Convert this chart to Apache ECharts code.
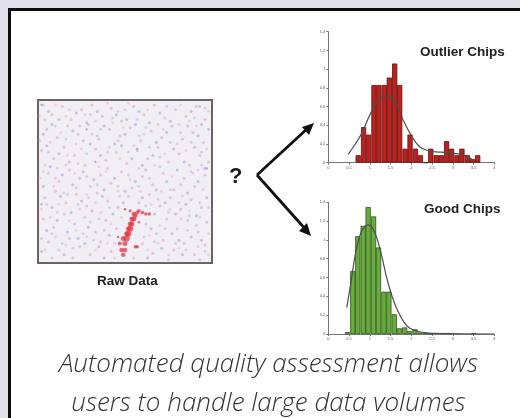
<!DOCTYPE html>
<html><head><meta charset="utf-8">
<style>
html,body{margin:0;padding:0;background:#fff;width:520px;height:418px;overflow:hidden}
#fig,#top{position:absolute;left:0;top:0;width:520px;height:418px}
#fig{filter:blur(0.45px)}
</style>
<script src="https://cdn.jsdelivr.net/npm/echarts@6/dist/echarts.min.js"></script>
</head><body><div id="fig"></div><div id="top"></div>
<script>
const outlierCenters=[.72,.85,.97,1.10,1.22,1.35,1.47,1.60,1.72,1.85,1.97,2.10,2.22,2.35,2.47,2.60,2.72,2.85,2.97,3.10,3.22,3.35,3.47,3.60];
const outlierValues=[.08,.38,.30,.83,.83,.83,.91,1.06,.83,.15,.30,.15,.08,0,.15,.08,.08,.23,.15,.08,.15,.08,.04,.08];
const outlierCurve=[[.48,.09],[.65,.2],[.8,.31],[1,.51],[1.2,.67],[1.4,.715],[1.6,.66],[1.8,.46],[2,.29],[2.2,.17],[2.4,.13],[2.6,.115],[2.8,.11],[3,.10],[3.2,.09],[3.4,.055],[3.5,.01]];
const goodCenters=[.46,.59,.71,.84,.96,1.09,1.21,1.34,1.46,1.59,1.71,1.84,1.96,2.09,2.21,2.34,2.46,2.90,3.50];
const goodValues=[.02,.67,1.04,1.15,1.35,1.25,.92,.45,.45,.21,.06,.07,.03,.05,.015,.01,.005,.01,.005];
const goodCurve=[[.445,.28],[.55,.56],[.65,.84],[.8,1.09],[.97,1.16],[1.11,1.09],[1.27,.86],[1.43,.56],[1.63,.29],[1.87,.1],[2.1,.035],[2.5,.007],[4,0]];
const xTicks=['0','0.5','1','1.5','2','2.5','3','3.5','4'];
const streakPoints=[[49,5,4.5],[48,8,4.5],[50,8,4.5],[47,12,4],[50,12,5],[49,15,5],[51,15,6],[51,18,5],[52,18,6],[52,21,5],[53,21,6],[53,24,5],[54,24,5],[54,27,5],[55,27,5],[55,30,4.5],[56,29,4.5],[53,32,3],[57,31,4],[58,32,3.5],[60,31,3.5],[62,30,3.5],[64,30,3.5],[56,10,3.5],[57,10,3.5],[50,33,2.5],[46,16,2.5],[58,25,2.5]];
const pinkSpeckle=[[3,97],[8,91],[14,96],[19,88],[25,94],[31,97],[37,90],[42,95],[48,87],[55,96],[61,91],[67,97],[73,89],[79,94],[85,90],[91,96],[96,88],[5,82],[11,77],[17,84],[23,79],[29,85],[35,76],[41,82],[47,78],[53,83],[59,75],[65,81],[71,77],[77,84],[83,76],[89,80],[95,74],[2,69],[9,64],[15,71],[21,66],[27,60],[33,70],[39,63],[45,68],[51,61],[57,69],[63,64],[69,71],[75,62],[81,67],[87,60],[93,66],[98,62],[6,55],[12,50],[18,57],[24,52],[30,47],[36,54],[42,49],[48,56],[54,46],[60,53],[66,48],[72,55],[78,45],[84,52],[90,47],[96,54],[4,40],[10,44],[16,37],[22,42],[28,35],[34,43],[40,38],[46,34],[52,41],[58,37],[64,42],[70,35],[76,40],[82,33],[88,39],[94,34],[3,27],[9,22],[15,30],[21,24],[27,28],[33,19],[39,26],[45,21],[62,24],[68,18],[74,27],[80,21],[86,26],[92,19],[97,25],[6,13],[12,8],[18,15],[24,10],[30,5],[36,13],[42,7],[60,12],[66,6],[72,14],[78,8],[84,12],[90,5],[96,11],[8,3],[20,3],[55,3],[75,2],[93,2]];
const blueSpeckle=[[6,93],[12,88],[22,92],[28,86],[34,93],[45,91],[51,88],[58,93],[64,86],[70,92],[76,87],[88,93],[94,85],[3,79],[8,85],[20,81],[26,75],[38,84],[44,73],[50,79],[56,85],[68,74],[74,80],[86,84],[92,78],[98,82],[5,72],[12,67],[18,62],[30,73],[36,66],[48,72],[54,64],[60,60],[66,66],[78,70],[84,62],[90,71],[96,58],[7,59],[14,54],[20,48],[26,56],[32,51],[38,45],[44,52],[50,44],[56,50],[62,57],[68,45],[74,50],[80,57],[86,43],[92,50],[3,47],[8,34],[13,41],[19,31],[25,38],[31,32],[37,41],[43,30],[49,37],[60,40],[67,30],[73,37],[79,30],[85,36],[91,29],[97,40],[5,20],[11,26],[17,19],[23,15],[29,22],[35,10],[41,17],[65,21],[71,9],[77,18],[83,5],[88,16],[94,14],[2,7],[15,5],[27,12],[38,3],[63,3],[81,14]];
const palePink=[[1,90],[10,97],[16,90],[27,91],[33,87],[40,98],[46,93],[52,98],[63,94],[69,85],[82,97],[87,87],[98,93],[7,74],[13,80],[25,70],[31,79],[43,86],[49,83],[55,72],[61,79],[72,82],[80,73],[91,84],[97,70],[4,60],[11,58],[17,66],[23,61],[35,59],[41,71],[47,64],[58,58],[67,60],[73,67],[85,69],[92,57],[1,52],[9,47],[15,43],[21,55],[28,42],[33,37],[39,56],[46,44],[53,51],[59,44],[65,36],[71,44],[77,53],[83,41],[89,55],[95,45],[2,33],[7,28],[12,36],[18,26],[24,33],[30,25],[36,31],[42,24],[48,28],[59,30],[64,17],[70,23],[76,33],[82,27],[87,32],[93,28],[98,18],[4,8],[10,16],[16,11],[22,20],[28,16],[33,8],[40,12],[44,3],[63,8],[69,12],[75,5],[81,9],[86,20],[92,10],[98,5]];
const paleBlue=[[4,88],[10,84],[18,94],[24,84],[30,91],[36,82],[43,89],[50,94],[57,88],[62,83],[74,96],[81,85],[90,89],[96,95],[1,75],[6,68],[16,76],[22,73],[28,67],[34,78],[40,68],[46,75],[52,68],[58,78],[64,71],[70,65],[76,74],[82,80],[88,74],[94,68],[3,56],[10,52],[16,60],[22,46],[28,53],[34,48],[40,58],[46,47],[52,54],[58,47],[64,52],[70,59],[76,45],[82,48],[88,56],[94,60],[5,36],[11,31],[17,42],[23,36],[29,40],[35,27],[41,34],[47,41],[62,35],[69,39],[75,31],[81,37],[87,29],[93,37],[98,34],[2,15],[8,18],[14,12],[20,9],[26,18],[32,14],[38,20],[44,12],[61,16],[67,13],[73,21],[79,12],[85,8],[91,23],[96,7]];
const darkSpeckle=[[2,97],[28,82],[57,70],[97,58],[2,36],[33,62],[93,96]];

function hist(i,centers,values,curve,fill,edge,top,bottom){
  return {
    grid:{left:328.3,right:25.7,top:top,bottom:bottom},
    xAxis:{gridIndex:i,type:'value',min:0,max:4,interval:.5,splitLine:{show:false},
      axisLine:{onZero:false,lineStyle:{color:'#777',width:1}},axisTick:{length:2,lineStyle:{color:'#777'}},
      axisLabel:{fontSize:4,color:'#555',margin:3,formatter:(v,idx)=>xTicks[idx]}},
    yAxis:{gridIndex:i,type:'value',min:0,max:1.4,interval:.2,splitLine:{show:false},
      axisLine:{show:true,lineStyle:{color:'#777',width:1}},axisTick:{show:true,length:2,lineStyle:{color:'#777'}},
      axisLabel:{fontSize:4,color:'#555',margin:3,formatter:v=>String(+v.toFixed(1))}},
    series:[
      {type:'bar',xAxisIndex:i,yAxisIndex:i,barWidth:5.2,data:centers.map((c,k)=>[c,values[k]]),
       itemStyle:{color:fill,borderColor:edge,borderWidth:0.8},silent:true,animation:false},
      {type:'line',xAxisIndex:i,yAxisIndex:i,data:curve,smooth:.4,symbol:'none',z:5,lineStyle:{color:'#4d4d4d',width:1.2},animation:false}
    ]
  };
}
const a=hist(0,outlierCenters,outlierValues,outlierCurve,'#bd211e','#5e1210',31.7,255.3);
const b=hist(1,goodCenters,goodValues,goodCurve,'#68ad3c','#2f571b',202.3,84);
const fig=echarts.init(document.getElementById('fig'),null,{renderer:'canvas'});
const sc=(data,color,size,op)=>({type:'scatter',xAxisIndex:2,yAxisIndex:2,data:data,symbolSize:size,
  itemStyle:{color:color,opacity:op},animation:false,silent:true});
fig.setOption({
  animation:false,
  grid:[a.grid,b.grid,{left:38,right:308,top:100,bottom:155,show:true,backgroundColor:'#f1eef6',borderColor:'#6b6462',borderWidth:2}],
  xAxis:[a.xAxis,b.xAxis,{gridIndex:2,type:'value',min:0,max:100,show:false}],
  yAxis:[a.yAxis,b.yAxis,{gridIndex:2,type:'value',min:0,max:100,show:false}],
  series:[...a.series,...b.series,
    sc(pinkSpeckle,'#e29fb0',3,.55),sc(blueSpeckle,'#9c9ed4',3,.55),
    sc(palePink,'#eaaebd',2.8,.5),sc(paleBlue,'#adb0de',2.8,.5),
    sc(darkSpeckle,'#8a86b8',2.2,.7),
    {type:'scatter',xAxisIndex:2,yAxisIndex:2,data:streakPoints,symbolSize:d=>d[2],itemStyle:{color:'#e2303c',opacity:.72},animation:false,silent:true}
  ],
  graphic:[
    {type:'text',left:420,top:45,style:{text:'Outlier Chips',font:'bold 13.5px "Liberation Sans"',fill:'#222'}},
    {type:'text',left:424,top:202,style:{text:'Good Chips',font:'bold 13.5px "Liberation Sans"',fill:'#222'}},
    {type:'text',left:97,top:274,style:{text:'Raw Data',font:'bold 13.5px "Liberation Sans"',fill:'#222'}},
    {type:'text',left:229,top:166,style:{text:'?',font:'bold 22px "Liberation Sans"',fill:'#1a1a1a'}},
    {type:'line',shape:{x1:257,y1:175,x2:308,y2:128},style:{stroke:'#111',lineWidth:2.8}},
    {type:'line',shape:{x1:257,y1:175,x2:307,y2:231},style:{stroke:'#111',lineWidth:2.8}},
    {type:'polygon',shape:{points:[[314,123],[302,127],[309,135]]},style:{fill:'#111'}},
    {type:'polygon',shape:{points:[[311,236],[299,231],[307,223]]},style:{fill:'#111'}}
  ]
});
const topc=echarts.init(document.getElementById('top'),null,{renderer:'canvas'});
topc.setOption({
  animation:false,
  graphic:[
    {type:'rect',shape:{x:0,y:0,width:520,height:8},style:{fill:'#e3e0ee'}},
    {type:'rect',shape:{x:0,y:0,width:8,height:418},style:{fill:'#e3e0ee'}},
    {type:'rect',shape:{x:8,y:8,width:512,height:3},style:{fill:'#0c0c0c'}},
    {type:'rect',shape:{x:8,y:8,width:3,height:410},style:{fill:'#0c0c0c'}},
    {type:'text',x:268.5,y:365,style:{text:'Automated quality assessment allows',font:'italic 300 26px "Open Sans"',fill:'#333',align:'center',verticalAlign:'middle'}},
    {type:'text',x:268.5,y:404,style:{text:'users to handle large data volumes',font:'italic 300 26px "Open Sans"',fill:'#333',align:'center',verticalAlign:'middle'}}
  ]
});
</script></body></html>
